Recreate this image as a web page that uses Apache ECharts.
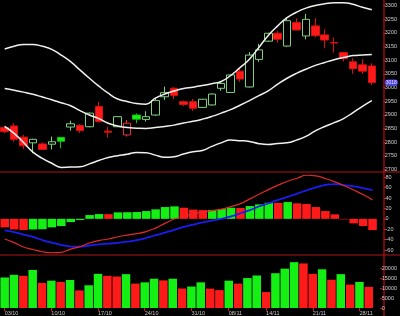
<!DOCTYPE html>
<html><head><meta charset="utf-8">
<script src="https://cdn.jsdelivr.net/npm/echarts@6/dist/echarts.min.js"></script>
<style>html,body{margin:0;padding:0;background:#000;}#c{width:400px;height:316px;}</style>
</head><body><div id="c"></div><script>
const dates = ['03/10','06/10','07/10','08/10','09/10','10/10','13/10','14/10','15/10','16/10',
  '17/10','20/10','21/10','22/10','23/10','24/10','27/10','28/10','29/10','30/10',
  '31/10','03/11','05/11','06/11','08/11','10/11','11/11','13/11','14/11','17/11',
  '18/11','19/11','20/11','21/11','24/11','25/11','26/11','27/11','28/11','01/12'];
const tickLabels = ['03/10','10/10','17/10','24/10','31/10','08/11','14/11','21/11','28/11'];
const opens  = [2853,2859,2818,2797,2793,2792,2817,2855,2861,2856,2930,2840,2856,2826,2899,2883,2899,2966,2997,2948,2948,2927,2936,2997,2982,3060,3002,3103,3170,3199,3152,3238,3189,3226,3193,3165,3128,3094,3083,3079];
const closes = [2838,2810,2786,2810,2773,2801,2803,2867,2842,2906,2875,2836,2893,2869,2884,2893,2952,2981,2971,2938,2924,2957,2976,3015,3046,3031,3119,3138,3199,3177,3245,3211,3250,3190,3174,3163,3106,3069,3060,3018];
const highs  = [2860,2869,2826,2812,2799,2820,2818,2878,2866,2908,2947,2856,2894,2881,2905,2913,2960,3003,3001,2952,2958,2958,2978,3024,3047,3068,3130,3160,3200,3207,3257,3254,3270,3254,3214,3184,3131,3107,3104,3089];
const lows   = [2832,2801,2775,2759,2771,2773,2777,2842,2834,2854,2872,2817,2855,2820,2869,2875,2896,2954,2957,2932,2914,2925,2934,2988,2980,3021,3000,3094,3167,3164,3150,3209,3177,3184,3144,3128,3095,3050,3050,3009];
const bollUpper = [3141,3151,3158,3158,3151,3140,3119,3095,3064,3034,3005,2979,2958,2949,2941,2939,2961,2976,2987,2996,3001,3007,3014,3022,3044,3073,3104,3147,3191,3226,3256,3276,3291,3301,3307,3311,3311,3305,3294,3285];
const bollMid   = [2996,2990,2983,2975,2965,2955,2944,2933,2915,2899,2886,2869,2859,2853,2851,2850,2853,2857,2862,2870,2876,2884,2894,2906,2919,2935,2952,2970,2988,3012,3034,3052,3067,3081,3092,3102,3110,3117,3119,3121];
const bollLower = [2857,2832,2798,2763,2740,2722,2707,2708,2709,2720,2732,2743,2750,2755,2762,2761,2752,2744,2746,2756,2764,2769,2784,2797,2807,2805,2802,2794,2791,2795,2797,2807,2821,2841,2857,2871,2886,2908,2931,2952];
const macdDif  = [-38.9,-45.7,-54.2,-59.0,-63.4,-65.3,-64.6,-58.2,-53.4,-46.6,-41.8,-38.8,-34.5,-31.2,-28.4,-24.5,-17.8,-8.7,-0.4,5.3,9.2,13.1,15.9,18.8,23.6,29.4,38.5,47.7,56.8,65.0,72.4,78.1,83.9,82.8,77.6,71.2,63.7,55.4,46.7,36.5];
const macdDea  = [-22.2,-25.6,-30.3,-34.7,-40.9,-45.9,-50.1,-53.4,-53.6,-51.3,-49.1,-47.6,-46.1,-44.0,-41.1,-36.8,-31.4,-26.4,-21.2,-15.3,-11.0,-7.0,-3.5,0.0,4.6,10.8,16.9,24.2,30.0,36.7,42.3,48.7,55.0,60.6,65.4,67.0,64.9,62.6,59.3,55.4];
const macdHist = [-16.4,-20.4,-21.6,-20.4,-20.0,-16.4,-13.9,-6.2,-2.3,7.3,9.2,9.0,12.5,12.7,13.1,15.0,18.3,22.7,24.0,21.4,17.8,16.8,17.2,18.9,21.4,20.8,24.6,27.9,31.0,30.6,32.3,29.8,28.5,22.7,15.0,8.6,-1.0,-8.7,-13.9,-21.6];
const volumes = [15380,16708,16216,19165,12628,13759,13120,14103,8845,11450,17199,16216,15872,17051,12285,12924,14742,13907,14742,9828,10811,12924,9750,9009,13759,12285,15069,16380,8026,17527,19820,23096,22440,17199,19492,14251,17051,11794,13120,10647];

const RED = '#ff1a1a', GREEN = '#14f014', HOLLOW_G = '#80cf80', HOLLOW_R = '#e83030';
const AXIS_RED = '#e01010';

const candleData = opens.map((o, i) => {
  const c = closes[i];
  const prev = i > 0 ? closes[i - 1] : o;
  const isGreen = c > prev;
  const hollow = c > o;
  const st = hollow
    ? { color: '#000', borderColor: isGreen ? HOLLOW_G : HOLLOW_R }
    : { color0: isGreen ? GREEN : RED, borderColor0: isGreen ? '#10c010' : '#d81010' };
  return { value: [o, c, lows[i], highs[i]], itemStyle: st };
});
const histData = macdHist.map((v, i) => ({
  value: v,
  itemStyle: { color: (i > 0 && v >= macdHist[i - 1]) ? GREEN : RED }
}));
const volData = volumes.map((v, i) => ({
  value: v,
  itemStyle: { color: (i === 0 || v >= volumes[i - 1]) ? GREEN : RED }
}));

const showTick = (idx, val) => tickLabels.indexOf(val) >= 0;
const gridBase = { left: -2.75, right: 22.75 };
const yBase = {
  type: 'value', position: 'right', offset: 6.75,
  axisLine: { show: false },
  axisTick: { show: true, length: 2, lineStyle: { color: AXIS_RED } },
  axisLabel: { fontSize: 5.5, color: '#d0d0d0', margin: 1.5, fontFamily: 'Liberation Sans', formatter: v => String(v) },
  splitLine: { show: false }
};
const xHidden = { type: 'category', data: dates, boundaryGap: true, show: false };

const chart = echarts.init(document.getElementById('c'), null, { renderer: 'canvas' });
chart.setOption({
  backgroundColor: '#000',
  animation: false,
  grid: [
    Object.assign({ top: 5.7, height: 163.6 }, gridBase),
    Object.assign({ top: 177.3, height: 72.7 }, gridBase),
    Object.assign({ top: 268.3, height: 40.7 }, gridBase)
  ],
  xAxis: [
    Object.assign({ gridIndex: 0 }, xHidden),
    Object.assign({ gridIndex: 1 }, xHidden),
    {
      type: 'category', gridIndex: 2, data: dates, boundaryGap: true,
      axisLine: { show: false },
      axisTick: { show: true, alignWithLabel: true, interval: showTick, length: 3, lineStyle: { color: AXIS_RED } },
      axisLabel: { interval: showTick, align: 'left', margin: 2, fontSize: 5.5, color: '#c8c8c8', fontFamily: 'Liberation Sans' },
      splitLine: { show: false }
    }
  ],
  yAxis: [
    Object.assign({}, yBase, {
      gridIndex: 0, min: 2700, max: 3300, interval: 50,
      axisPointer: {
        show: true, type: 'line', value: closes[closes.length - 1], status: 'show',
        triggerTooltip: false, triggerOn: 'none',
        lineStyle: { opacity: 0 },
        label: { show: true, formatter: p => String(Math.round(p.value)), backgroundColor: '#4646f0', color: '#ffd0ff', fontSize: 5, padding: [1, 1, 0, 1], margin: 1.5, fontFamily: 'Liberation Sans' }
      }
    }),
    Object.assign({}, yBase, { gridIndex: 1, min: -60, max: 80, interval: 20 }),
    Object.assign({}, yBase, { gridIndex: 2, min: 0, max: 20000, interval: 5000 })
  ],
  series: [
    { type: 'candlestick', xAxisIndex: 0, yAxisIndex: 0, data: candleData, barWidth: 8,
      itemStyle: { borderWidth: 1 } },
    { type: 'line', xAxisIndex: 0, yAxisIndex: 0, data: bollUpper, smooth: true, showSymbol: false, clip: false,
      lineStyle: { color: '#f0f0f0', width: 1.5 } },
    { type: 'line', xAxisIndex: 0, yAxisIndex: 0, data: bollMid, smooth: true, showSymbol: false, clip: false,
      lineStyle: { color: '#f0f0f0', width: 1.5 } },
    { type: 'line', xAxisIndex: 0, yAxisIndex: 0, data: bollLower, smooth: true, showSymbol: false, clip: false,
      lineStyle: { color: '#f0f0f0', width: 1.5 } },
    { type: 'bar', xAxisIndex: 1, yAxisIndex: 1, data: histData, barWidth: 8.5, clip: false },
    { type: 'line', xAxisIndex: 1, yAxisIndex: 1, data: macdDea, smooth: true, showSymbol: false, clip: false,
      lineStyle: { color: '#1c1cf0', width: 1.8 } },
    { type: 'line', xAxisIndex: 1, yAxisIndex: 1, data: macdDif, smooth: true, showSymbol: false, clip: false,
      lineStyle: { color: '#e02a2a', width: 1.2 } },
    { type: 'bar', xAxisIndex: 2, yAxisIndex: 2, data: volData, barWidth: 8.5, clip: false }
  ],
  graphic: [
    { type: 'line', shape: { x1: 0, y1: 172, x2: 400, y2: 172 }, style: { stroke: '#a81818', lineWidth: 1 }, silent: true },
    { type: 'line', shape: { x1: 0, y1: 255, x2: 400, y2: 255 }, style: { stroke: '#a81818', lineWidth: 1 }, silent: true },
    { type: 'line', shape: { x1: 384, y1: 0, x2: 384, y2: 316 }, style: { stroke: AXIS_RED, lineWidth: 1 }, silent: true }
  ]
});
</script></body></html>
